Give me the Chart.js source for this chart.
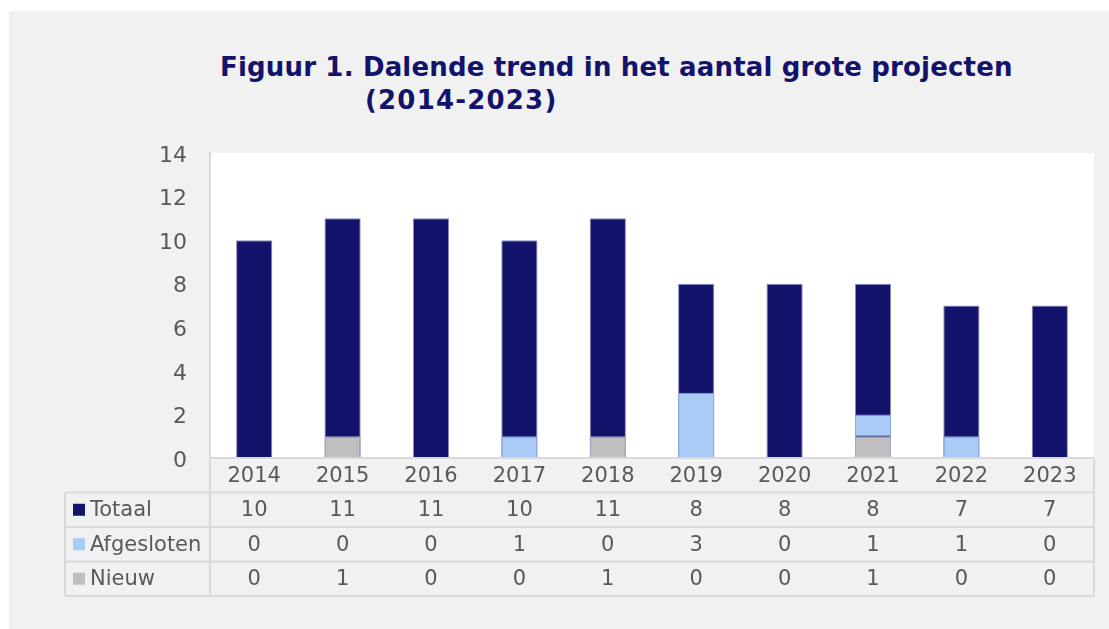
<!DOCTYPE html>
<html>
<head>
<meta charset="utf-8">
<script src="https://cdn.jsdelivr.net/npm/chart.js@4.4.1/dist/chart.umd.min.js"></script>
<style>
  html, body { margin: 0; padding: 0; background: #ffffff; }
  body { width: 1109px; height: 629px; position: relative; overflow: hidden; }
  #panel { position: absolute; left: 9px; top: 11px; width: 1100px; height: 618px; background: #f1f1f1; }
  .title { position: absolute; font-family: 'DejaVu Sans', Verdana, sans-serif; font-weight: bold;
           font-size: 26px; line-height: 26px; color: #13136b; white-space: nowrap; }
  #chart { position: absolute; left: 0; top: 0; }
</style>
</head>
<body>
<div id="panel"></div>
<div class="title" style="left:220px; top:54px; letter-spacing:0.17px;">Figuur 1. Dalende trend in het aantal grote projecten</div>
<div class="title" style="left:365px; top:87px; letter-spacing:1.2px;">(2014-2023)</div>
<canvas id="chart" width="1109" height="629"></canvas>
<script>
// jaren en reeksen
const jaren = ['2014', '2015', '2016', '2017', '2018', '2019', '2020', '2021', '2022', '2023'];
const totaal = [10, 11, 11, 10, 11, 8, 8, 8, 7, 7];
const afgesloten = [0, 0, 0, 1, 0, 3, 0, 1, 1, 0];
const nieuw = [0, 1, 0, 0, 1, 0, 0, 1, 0, 0];
const yTicks = [0, 2, 4, 6, 8, 10, 12, 14];

const kleuren = { totaal: '#13136b', afgesloten: '#abcbf7', nieuw: '#bfbfbf' };
const tekstKleur = '#595959';
const lijnKleur = '#d9d9d9';
const fontFamily = "'DejaVu Sans', Verdana, sans-serif";

const rijen = [
  { label: 'Totaal', data: totaal, kleur: kleuren.totaal },
  { label: 'Afgesloten', data: afgesloten, kleur: kleuren.afgesloten },
  { label: 'Nieuw', data: nieuw, kleur: kleuren.nieuw },
];

// witte plotachtergrond
const plotBg = {
  id: 'plotBg',
  beforeDraw(chart) {
    const { ctx, chartArea: a } = chart;
    ctx.save();
    ctx.fillStyle = '#ffffff';
    ctx.fillRect(a.left, a.top, a.right - a.left, a.bottom - a.top);
    ctx.restore();
  },
};

// datatabel onder de grafiek
const dataTabel = {
  id: 'dataTabel',
  afterDraw(chart) {
    const { ctx, chartArea: a } = chart;
    const x = chart.scales.x;
    const tabelLinks = 65;
    const rijH = 34.5;
    const top = a.bottom;
    const yJaar = top + rijH;
    const onder = yJaar + rijH * rijen.length;

    ctx.save();
    ctx.strokeStyle = lijnKleur;
    ctx.lineWidth = 2;
    ctx.beginPath();
    // jaarrij
    ctx.moveTo(a.left, top); ctx.lineTo(a.right, top);
    ctx.moveTo(a.right, top); ctx.lineTo(a.right, onder);
    ctx.moveTo(a.left, top); ctx.lineTo(a.left, onder);
    // datarijen
    for (let r = 0; r <= rijen.length; r++) {
      const y = yJaar + r * rijH;
      ctx.moveTo(tabelLinks, y); ctx.lineTo(a.right, y);
    }
    ctx.moveTo(tabelLinks, yJaar); ctx.lineTo(tabelLinks, onder);
    ctx.stroke();

    ctx.fillStyle = tekstKleur;
    ctx.font = '21px ' + fontFamily;
    ctx.textAlign = 'center';
    ctx.textBaseline = 'middle';
    jaren.forEach((j, i) => {
      ctx.fillText(j, x.getPixelForValue(i), top + rijH / 2 + 1);
    });
    rijen.forEach((rij, r) => {
      const yc = yJaar + r * rijH + rijH / 2 + 1;
      rij.data.forEach((v, i) => {
        ctx.fillText(String(v), x.getPixelForValue(i), yc);
      });
    });
    ctx.textAlign = 'left';
    rijen.forEach((rij, r) => {
      const yc = yJaar + r * rijH + rijH / 2;
      ctx.fillStyle = rij.kleur;
      ctx.fillRect(73, yc - 6, 12, 12);
      ctx.fillStyle = tekstKleur;
      ctx.fillText(rij.label, 90, yc + 1);
    });
    ctx.restore();
  },
};

const zonderNul = (arr) => arr.map((v) => (v === 0 ? null : v));

new Chart(document.getElementById('chart'), {
  type: 'bar',
  data: {
    labels: jaren,
    datasets: [
      {
        label: 'Totaal',
        data: totaal,
        backgroundColor: kleuren.totaal,
        borderColor: '#8a8cc4',
        stack: 'totaal',
        order: 2,
      },
      {
        label: 'Nieuw',
        data: zonderNul(nieuw),
        backgroundColor: kleuren.nieuw,
        borderColor: '#a8a8c4',
        stack: 'deel',
        order: 0,
      },
      {
        label: 'Afgesloten',
        data: zonderNul(afgesloten),
        backgroundColor: kleuren.afgesloten,
        borderColor: '#8fa8dc',
        stack: 'deel',
        order: 1,
      },
    ],
  },
  options: {
    responsive: false,
    animation: false,
    devicePixelRatio: 1,
    layout: { padding: { left: 0, right: 15, top: 153, bottom: 171 } },
    datasets: {
      bar: {
        grouped: false,
        barPercentage: 0.41,
        categoryPercentage: 1,
        borderWidth: 1,
        borderSkipped: false,
      },
    },
    plugins: {
      legend: { display: false },
      title: { display: false },
      tooltip: { enabled: false },
    },
    scales: {
      x: {
        display: false,
        stacked: true,
      },
      y: {
        stacked: true,
        min: 0,
        max: 14,
        afterFit: (s) => { s.width = 210; },
        afterBuildTicks: (s) => { s.ticks = yTicks.map((v) => ({ value: v })); },
        grid: { display: false, drawTicks: false },
        border: { display: true, color: lijnKleur, width: 2 },
        ticks: {
          color: tekstKleur,
          padding: 23,
          labelOffset: 3,
          font: { family: fontFamily, size: 22 },
        },
      },
    },
  },
  plugins: [plotBg, dataTabel],
});
</script>
</body>
</html>
